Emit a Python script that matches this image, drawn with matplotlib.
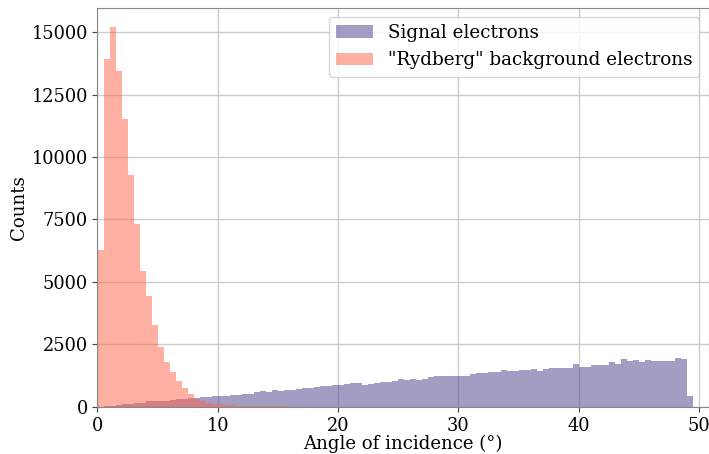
import numpy as np
import matplotlib
matplotlib.use("Agg")
import matplotlib.pyplot as plt

bin_width = 0.5
signal_counts = [10, 25, 40, 75, 100, 120, 140, 160, 225, 215,
                 230, 240, 290, 300, 330, 340, 360, 380, 400, 420,
                 440, 450, 470, 460, 510, 530, 590, 627, 600, 667,
                 640, 667, 680, 707, 733, 740, 773, 827, 830, 856,
                 860, 910, 935, 963, 855, 910, 950, 990, 1000, 1016,
                 1110, 1083, 1095, 1070, 1110, 1176, 1243, 1245, 1245, 1245,
                 1245, 1250, 1310, 1340, 1340, 1404, 1404, 1470, 1430, 1430,
                 1470, 1470, 1510, 1440, 1510, 1550, 1550, 1550, 1550, 1698,
                 1590, 1590, 1658, 1658, 1658, 1778, 1725, 1912, 1845, 1858,
                 1790, 1872, 1830, 1818, 1818, 1818, 1952, 1912, 414]
rydberg_counts = [6275, 13937, 15219, 13457, 11521, 9278, 7316, 5447, 4432, 3271,
                  2403, 1802, 1402, 1028, 761, 500, 330, 230, 170, 130,
                  110, 90, 55, 45, 40, 25, 22, 20, 18, 15,
                  14, 12, 10]

labels = ["Signal electrons", '"Rydberg" background electrons']
xlabel = "Angle of incidence (°)"
ylabel = "Counts"

edges_sig = np.arange(len(signal_counts) + 1) * bin_width
edges_ryd = np.arange(len(rydberg_counts) + 1) * bin_width
centers_sig = edges_sig[:-1] + bin_width / 2
centers_ryd = edges_ryd[:-1] + bin_width / 2

plt.rcParams['font.family'] = ['DejaVu Serif']

fig = plt.figure(figsize=(7.09, 4.54), dpi=100)
ax = fig.add_axes([0.1375, 0.104, 0.862, 0.879])

ax.hist(centers_sig, bins=edges_sig, weights=signal_counts,
        color='darkslateblue', alpha=0.5, label=labels[0])
ax.hist(centers_ryd, bins=edges_ryd, weights=rydberg_counts,
        color='tomato', alpha=0.5, label=labels[1])

ax.set_xlim(0, 50.8)
ax.set_ylim(0, 15980)
ax.set_xticks([0, 10, 20, 30, 40, 50])
ax.set_yticks([0, 2500, 5000, 7500, 10000, 12500, 15000])
ax.grid(True, color='#cccccc', linewidth=1.0)
ax.set_axisbelow(True)
for s in ax.spines.values():
    s.set_color('#888888')
ax.tick_params(colors='#444444', labelcolor='black', labelsize=12.8)
ax.set_xlabel(xlabel, fontsize=13.1, labelpad=0.5)
ax.set_ylabel(ylabel, fontsize=13.1, labelpad=2.5)
ax.legend(loc='upper right', fontsize=13.2, framealpha=0.8)

fig.savefig("out.png", dpi=100)
